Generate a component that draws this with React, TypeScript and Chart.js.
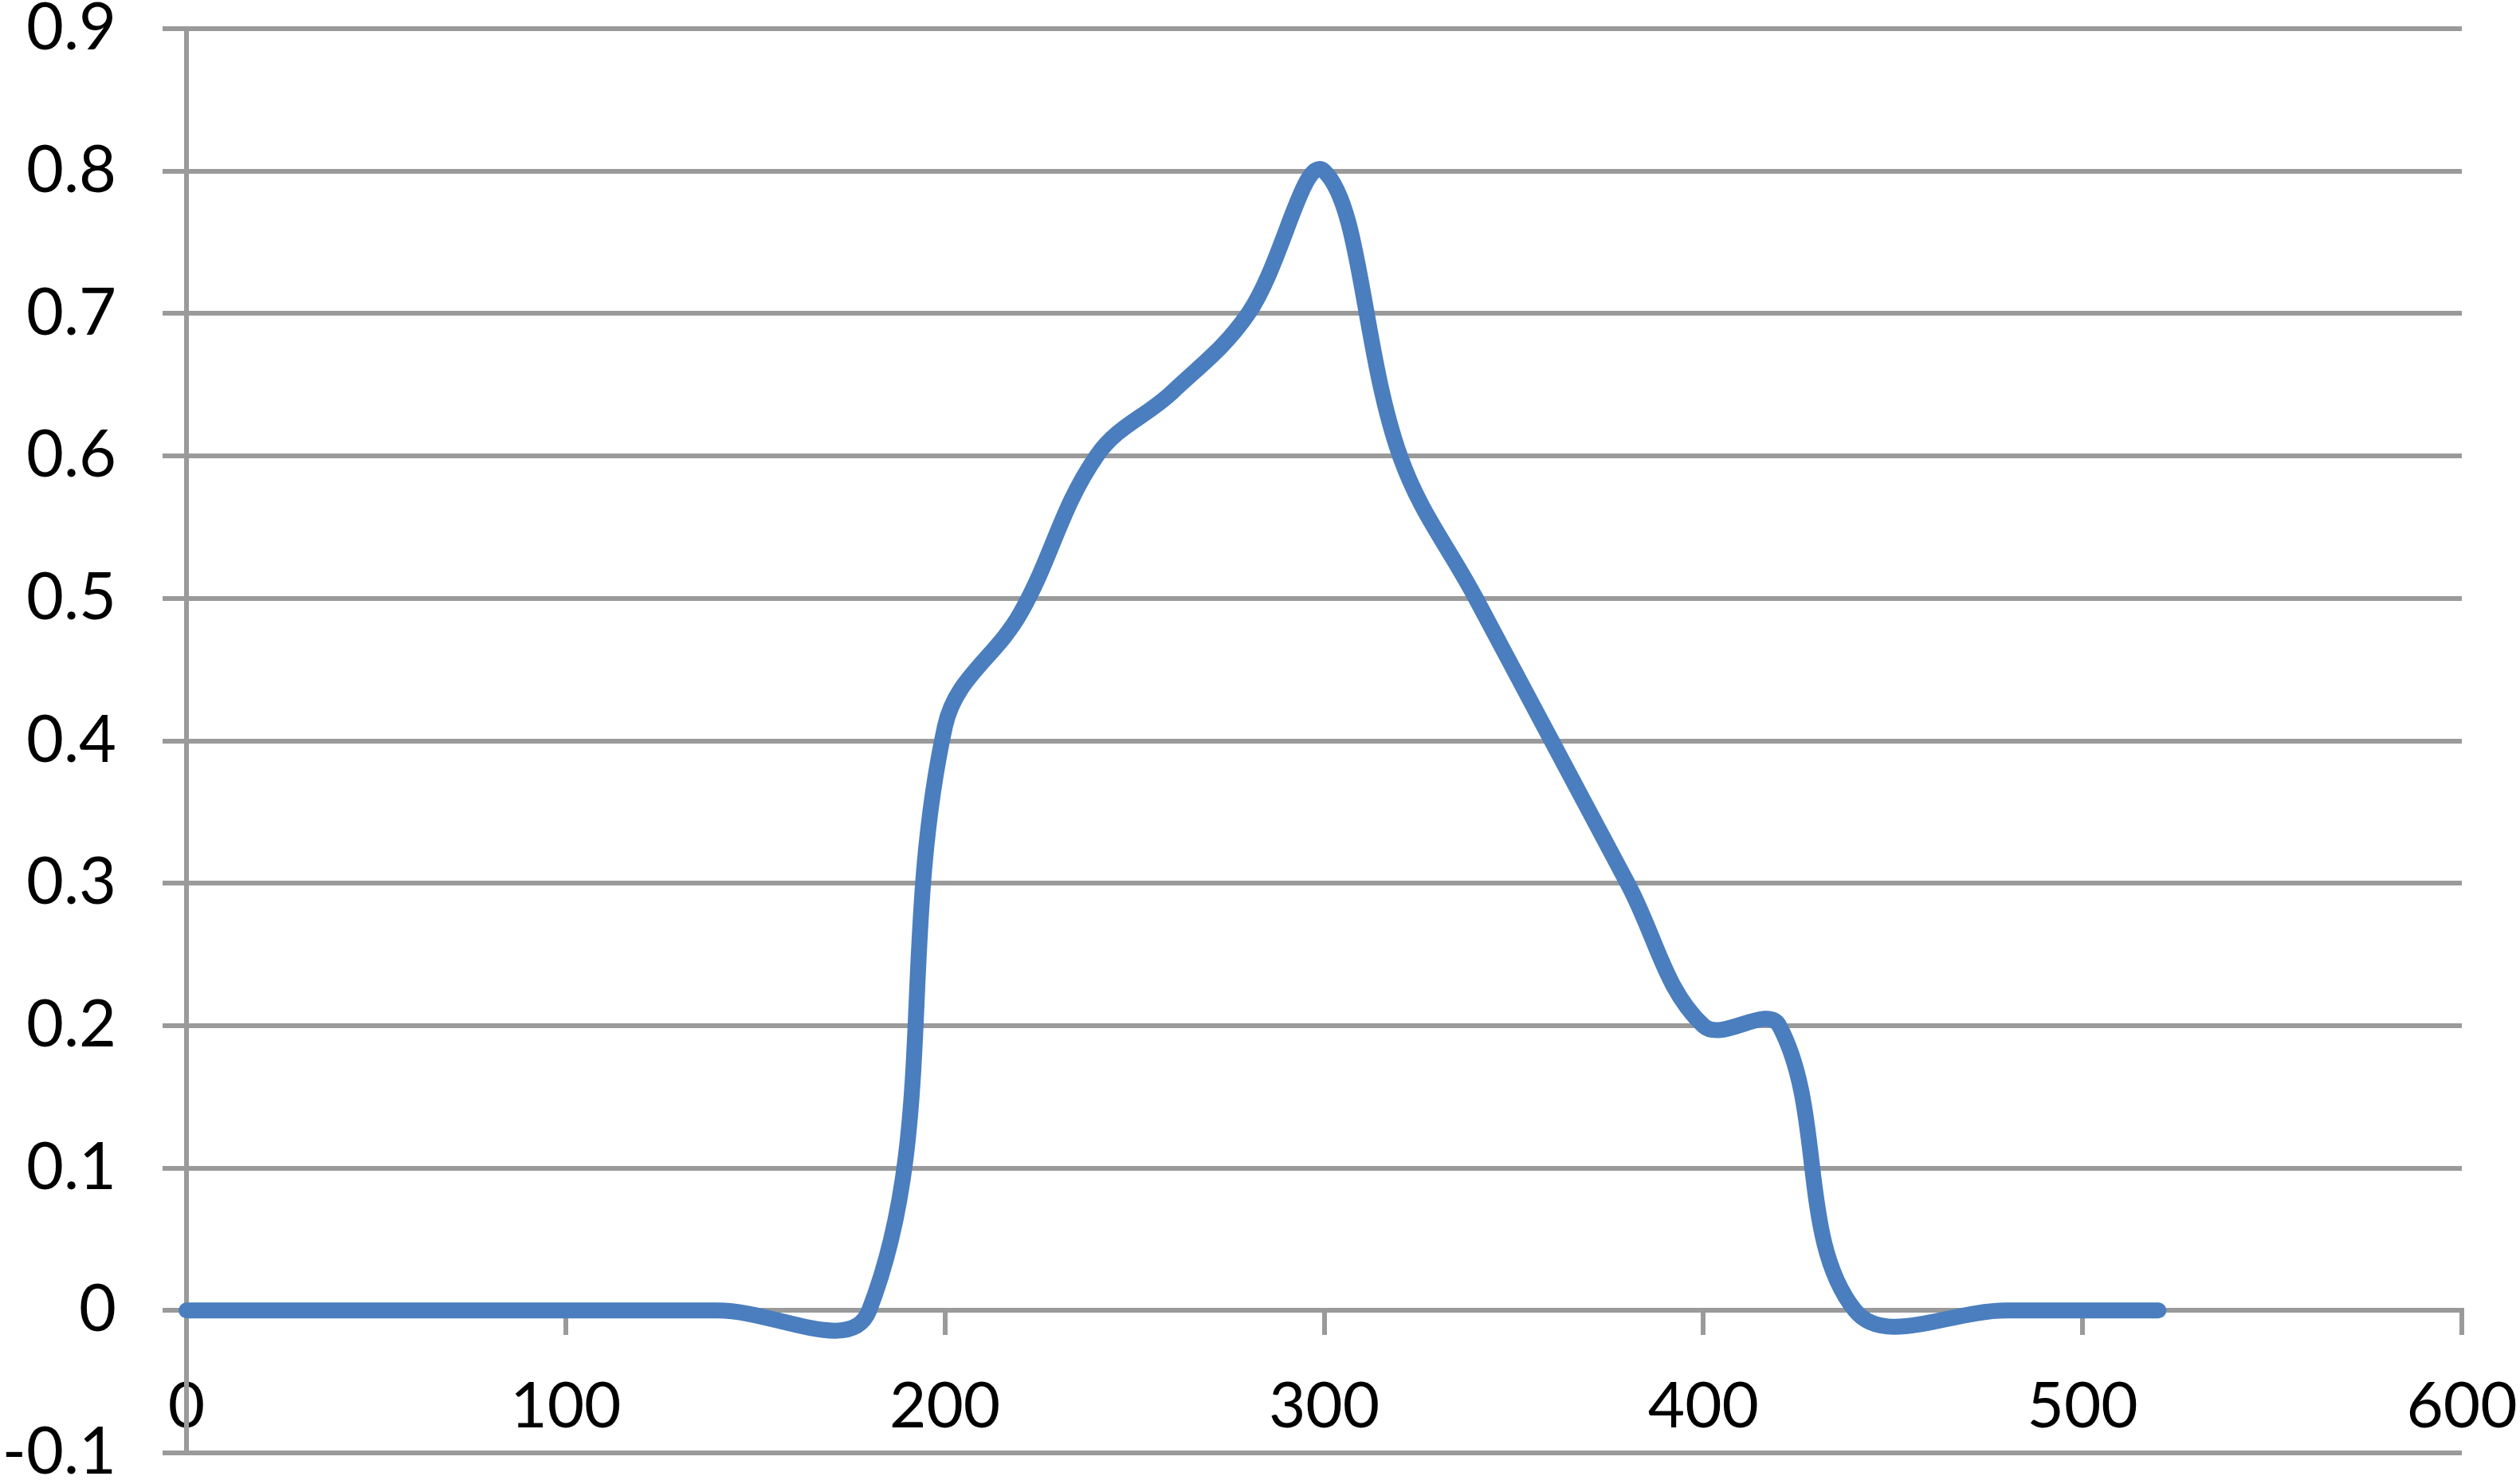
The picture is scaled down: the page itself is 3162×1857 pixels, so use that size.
import React, { useEffect, useRef } from 'react';
import { Chart, registerables } from 'chart.js';

Chart.register(...registerables);

// Data
const X_VALUES = [0, 20, 40, 60, 80, 100, 120, 140, 180, 200, 220, 240, 260, 280, 300, 320, 340, 360, 380, 400, 420, 440, 480, 500, 520];
const Y_VALUES = [0, 0, 0, 0, 0, 0, 0, 0, 0, 0.41, 0.49, 0.6, 0.645, 0.7, 0.8, 0.6, 0.5, 0.4, 0.3, 0.2, 0.2, 0, 0, 0, 0];

const X_TICKS = [0, 100, 200, 300, 400, 500, 600];
const X_TICK_LABELS = ['0', '100', '200', '300', '400', '500', '600'];
const Y_TICKS = [-0.1, 0, 0.1, 0.2, 0.3, 0.4, 0.5, 0.6, 0.7, 0.8, 0.9];
const Y_TICK_LABELS = ['-0.1', '0', '0.1', '0.2', '0.3', '0.4', '0.5', '0.6', '0.7', '0.8', '0.9'];

const LINE_COLOR = '#4A7EBE';
const GRID_COLOR = '#9A9A9A';
const FONT_FAMILY = 'Lato, "Open Sans", sans-serif';

const W = 3162;
const H = 1857;

export default function App() {
  const canvasRef = useRef<HTMLCanvasElement | null>(null);

  useEffect(() => {
    const canvas = canvasRef.current;
    if (!canvas) return;
    const chart = new Chart(canvas, {
      type: 'line',
      data: {
        datasets: [
          {
            data: X_VALUES.map((x, i) => ({ x, y: Y_VALUES[i] })),
            borderColor: LINE_COLOR,
            backgroundColor: LINE_COLOR,
            borderWidth: 20,
            pointRadius: 0,
            pointHoverRadius: 0,
            tension: 0.38,
            borderCapStyle: 'round',
            borderJoinStyle: 'round',
            fill: false,
            clip: false,
          } as any,
        ],
      },
      options: {
        animation: false,
        responsive: false,
        devicePixelRatio: 1,
        events: [],
        layout: { padding: { top: 36, right: 73, bottom: 34, left: 0 } },
        plugins: {
          legend: { display: false },
          tooltip: { enabled: false },
          title: { display: false },
        },
        scales: {
          x: {
            type: 'linear',
            position: { y: 0 } as any,
            min: 0,
            max: 600,
            afterBuildTicks: (scale: any) => {
              scale.ticks = X_TICKS.map((v) => ({ value: v }));
            },
            afterFit: (scale: any) => {
              scale.paddingLeft = 0;
              scale.paddingRight = 0;
            },
            ticks: {
              autoSkip: false,
              maxRotation: 0,
              minRotation: 0,
              padding: 53,
              color: '#000000',
              font: { family: FONT_FAMILY, size: 80, lineHeight: 1 },
              callback: (v: any) => X_TICK_LABELS[X_TICKS.indexOf(Number(v))] ?? String(v),
            },
            grid: {
              drawOnChartArea: false,
              drawTicks: true,
              tickLength: 28,
              color: GRID_COLOR,
              lineWidth: 6,
            },
            border: { display: true, color: GRID_COLOR, width: 6 },
          },
          y: {
            type: 'linear',
            min: -0.1,
            max: 0.9,
            afterBuildTicks: (scale: any) => {
              scale.ticks = Y_TICKS.map((v) => ({ value: v }));
            },
            afterFit: (scale: any) => {
              scale.width = 234;
              scale.paddingTop = 0;
              scale.paddingBottom = 0;
            },
            ticks: {
              autoSkip: false,
              padding: 58,
              color: '#000000',
              font: { family: FONT_FAMILY, size: 81, lineHeight: 0.8 },
              callback: (v: any) => Y_TICK_LABELS[Y_TICKS.indexOf(Number(v))] ?? String(v),
            },
            grid: {
              drawOnChartArea: true,
              drawTicks: true,
              tickLength: 30,
              color: GRID_COLOR,
              lineWidth: 6,
            },
            border: { display: true, color: GRID_COLOR, width: 6 },
          },
        },
      } as any,
    });
    return () => {
      chart.destroy();
    };
  }, []);

  return (
    <div style={{ position: 'absolute', left: 0, top: 0, width: W, height: H, background: '#ffffff' }}>
      <canvas ref={canvasRef} width={W} height={H} style={{ display: 'block', width: W, height: H }} />
    </div>
  );
}
